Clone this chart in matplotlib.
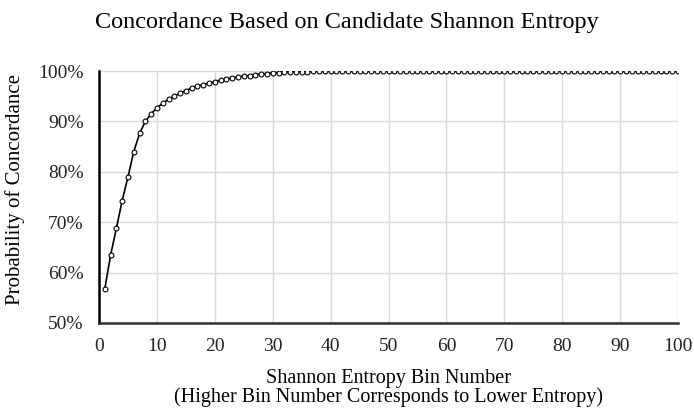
import numpy as np
import matplotlib.pyplot as plt
from matplotlib.ticker import PercentFormatter

plt.rcParams['font.family'] = ['Liberation Serif', 'DejaVu Serif']

bins = list(range(1, 101))
concordance = [
    56.8, 63.5, 68.8, 74.3, 79.0, 84.0, 87.6, 90.0, 91.5, 92.7,
    93.6, 94.4, 95.0, 95.6, 96.1, 96.6, 97.0, 97.3, 97.6, 97.9,
    98.2, 98.4, 98.6, 98.8, 99.0, 99.1, 99.3, 99.4, 99.5, 99.6,
    99.7, 99.75, 99.8, 99.85, 99.9, 99.9, 99.92, 99.95, 99.95, 99.96,
    99.97, 99.97, 99.98, 99.98, 99.98, 99.99, 99.99, 99.99, 99.99, 99.99,
    100, 100, 100, 100, 100, 100, 100, 100, 100, 100,
    100, 100, 100, 100, 100, 100, 100, 100, 100, 100,
    100, 100, 100, 100, 100, 100, 100, 100, 100, 100,
    100, 100, 100, 100, 100, 100, 100, 100, 100, 100,
    100, 100, 100, 100, 100, 100, 100, 100, 100, 100,
]
x_ticks = list(range(0, 101, 10))
y_ticks = [50, 60, 70, 80, 90, 100]

fig = plt.figure(figsize=(6.94, 4.09), dpi=100)
ax = fig.add_axes([0.1427, 0.2103, 0.8343, 0.6161])

ax.plot(bins, concordance, color='black', lw=1.2, marker='o', ms=3.5,
        mfc='white', mec='black', mew=0.8, zorder=3)

ax.set_xlim(0, 100)
ax.set_ylim(50, 100)
ax.set_xticks(x_ticks)
ax.set_yticks(y_ticks)
ax.yaxis.set_major_formatter(PercentFormatter(decimals=0))
ax.grid(True, color='#d9d9d9', lw=1)
ax.set_axisbelow(True)
for s in ['top', 'right']:
    ax.spines[s].set_visible(False)
ax.spines['left'].set_linewidth(1.8)
ax.spines['bottom'].set_linewidth(1.8)
ax.spines['bottom'].set_color('#333333')
ax.tick_params(length=0, labelsize=14, colors='#222222')
ax.tick_params(axis='x', pad=11)
ax.tick_params(axis='y', pad=11)

fig.text(0.5, 0.946, 'Concordance Based on Candidate Shannon Entropy',
         fontsize=17.5, ha='center', va='center')
ax.set_xlabel('Shannon Entropy Bin Number\n(Higher Bin Number Corresponds to Lower Entropy)',
              fontsize=14.5, labelpad=10, linespacing=0.92)
ax.set_ylabel('Probability of Concordance', fontsize=15)
ax.yaxis.set_label_coords(-0.128, 0.53)

fig.savefig('out.png', dpi=100)
